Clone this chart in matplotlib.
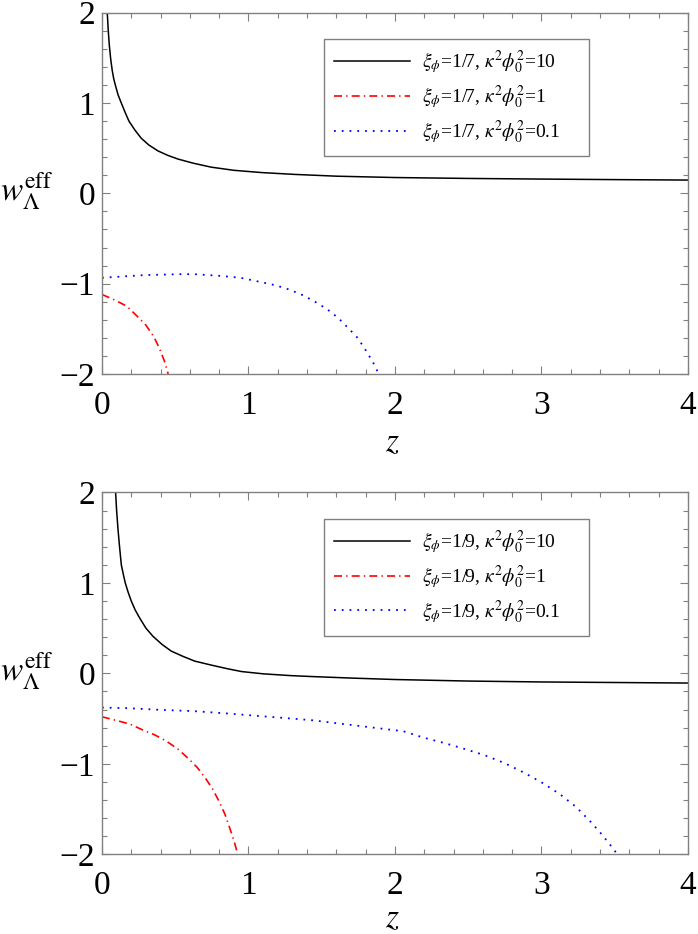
import matplotlib
matplotlib.use("Agg")
import matplotlib.pyplot as plt
from matplotlib.ticker import MultipleLocator

plt.rcParams['font.family'] = ['Liberation Serif', 'DejaVu Serif']
plt.rcParams['mathtext.fontset'] = 'stix'

# ---- data ----
# top panel: xi_phi = 1/7
z_top_10 = [0.036, 0.043, 0.05, 0.06, 0.07, 0.08, 0.091, 0.11, 0.132, 0.157, 0.184, 0.225, 0.268, 0.32,
            0.382, 0.45, 0.518, 0.62, 0.745, 0.9, 1.09, 1.31, 1.6, 2.0, 2.5, 3.0, 3.5, 4.0]
w_top_10 = [2.0, 1.8, 1.64, 1.48, 1.36, 1.27, 1.2, 1.09, 1.0, 0.9, 0.8, 0.7, 0.61, 0.535,
            0.47, 0.42, 0.38, 0.335, 0.29, 0.255, 0.23, 0.21, 0.19, 0.175, 0.165, 0.158, 0.152, 0.147]
z_top_1 = [0.0, 0.086, 0.17, 0.24, 0.30, 0.355, 0.393, 0.427, 0.452]
w_top_1 = [-1.12, -1.18, -1.25, -1.36, -1.46, -1.59, -1.72, -1.86, -2.0]
z_top_01 = [0.0, 0.098, 0.29, 0.53, 0.63, 0.81, 0.95, 1.086, 1.19, 1.283, 1.374, 1.458, 1.538,
            1.613, 1.68, 1.745, 1.80, 1.848, 1.889]
w_top_01 = [-0.935, -0.925, -0.905, -0.895, -0.895, -0.914, -0.936, -0.983, -1.02, -1.068, -1.13,
            -1.204, -1.284, -1.38, -1.49, -1.60, -1.736, -1.864, -2.0]

# bottom panel: xi_phi = 1/9
z_bot_10 = [0.093, 0.1, 0.109, 0.12, 0.132, 0.145, 0.159, 0.178, 0.2, 0.227, 0.257, 0.30, 0.348, 0.41,
            0.473, 0.55, 0.632, 0.75, 0.86, 0.953, 1.1, 1.29, 1.43, 1.7, 2.0, 2.5, 3.0, 3.5, 4.0]
w_bot_10 = [2.0, 1.8, 1.6, 1.4, 1.2, 1.1, 1.0, 0.9, 0.8, 0.7, 0.613, 0.50, 0.41, 0.32,
            0.246, 0.19, 0.136, 0.09, 0.05, 0.02, -0.005, -0.025, -0.035, -0.052, -0.068, -0.085,
            -0.095, -0.101, -0.107]
z_bot_1 = [0.0, 0.109, 0.189, 0.28, 0.36, 0.44, 0.518, 0.586, 0.65, 0.705, 0.757, 0.802, 0.84,
           0.87, 0.9, 0.927]
w_bot_1 = [-0.48, -0.525, -0.56, -0.627, -0.68, -0.75, -0.837, -0.936, -1.04, -1.156, -1.284,
           -1.424, -1.56, -1.70, -1.846, -2.0]
z_bot_01 = [0.0, 0.177, 0.405, 0.632, 0.86, 1.086, 1.427, 1.75, 2.057, 2.198, 2.339, 2.478, 2.614,
            2.746, 2.876, 3.0, 3.126, 3.235, 3.335, 3.4, 3.461, 3.518]
w_bot_01 = [-0.378, -0.385, -0.404, -0.418, -0.444, -0.473, -0.517, -0.58, -0.64, -0.712, -0.771,
            -0.837, -0.906, -0.991, -1.094, -1.204, -1.336, -1.475, -1.64, -1.758, -1.879, -2.0]

xi_labels = ["1/7", "1/9"]
kappa_vals = ["10", "1", "0.1"]

FRAME = "#808080"
DASHDOT = (0, (4.8, 2.5, 0.8, 2.5))
DOTTED = (0, (1, 3.3))

fig = plt.figure(figsize=(6.98, 9.34), dpi=100)
ax_top = fig.add_axes([0.1461, 0.5996, 0.8395, 0.3868])
ax_bot = fig.add_axes([0.1461, 0.0854, 0.8395, 0.3873])

panels = [
    (ax_top, xi_labels[0], (z_top_10, w_top_10), (z_top_1, w_top_1), (z_top_01, w_top_01), -0.19),
    (ax_bot, xi_labels[1], (z_bot_10, w_bot_10), (z_bot_1, w_bot_1), (z_bot_01, w_bot_01), -0.18),
]

for ax, xi, s10, s1, s01, zy in panels:
    lab = [r'$\xi_{\phi}$=' + xi + r', $\kappa^{2}\phi_{0}^{2}$=' + k for k in kappa_vals]
    ax.plot(s10[0], s10[1], color="black", lw=1.1, label=lab[0])
    ax.plot(s1[0], s1[1], color="#ff0000", lw=1.2, linestyle=DASHDOT, label=lab[1])
    ax.plot(s01[0], s01[1], color="#0000ff", lw=1.3, linestyle=DOTTED, label=lab[2])

    ax.set_xlim(0, 4)
    ax.set_ylim(-2, 2)
    ax.xaxis.set_major_locator(MultipleLocator(1))
    ax.xaxis.set_minor_locator(MultipleLocator(0.2))
    ax.yaxis.set_major_locator(MultipleLocator(1))
    ax.yaxis.set_minor_locator(MultipleLocator(0.2))
    ax.tick_params(which='both', direction='in', top=True, right=True, color=FRAME,
                   labelsize=24, width=0.8)
    ax.tick_params(which='major', length=6)
    ax.tick_params(which='minor', length=3.5)
    ax.tick_params(axis='x', which='major', pad=12)
    ax.tick_params(axis='y', which='major', pad=5)
    for sp in ax.spines.values():
        sp.set_color(FRAME)
        sp.set_linewidth(1.0)

    ax.set_xlabel(r'$z$', fontsize=24, va='center')
    ax.xaxis.set_label_coords(0.495, zy)
    ax.set_ylabel(r'$w_{\Lambda}^{\mathrm{eff}}$', fontsize=24, rotation=0, ha='center', va='center')
    ax.yaxis.set_label_coords(-0.128, 0.505)

    leg = ax.legend(loc='upper left', bbox_to_anchor=(0.379, 0.928, 0.452, 0.0), mode='expand',
                    fontsize=14, frameon=True, fancybox=False, edgecolor=FRAME, framealpha=1,
                    handlelength=3.9, handletextpad=0.65, labelspacing=0.35,
                    borderpad=0.5, borderaxespad=0)
    leg.get_frame().set_linewidth(1.0)

fig.savefig("out.png", dpi=100)
